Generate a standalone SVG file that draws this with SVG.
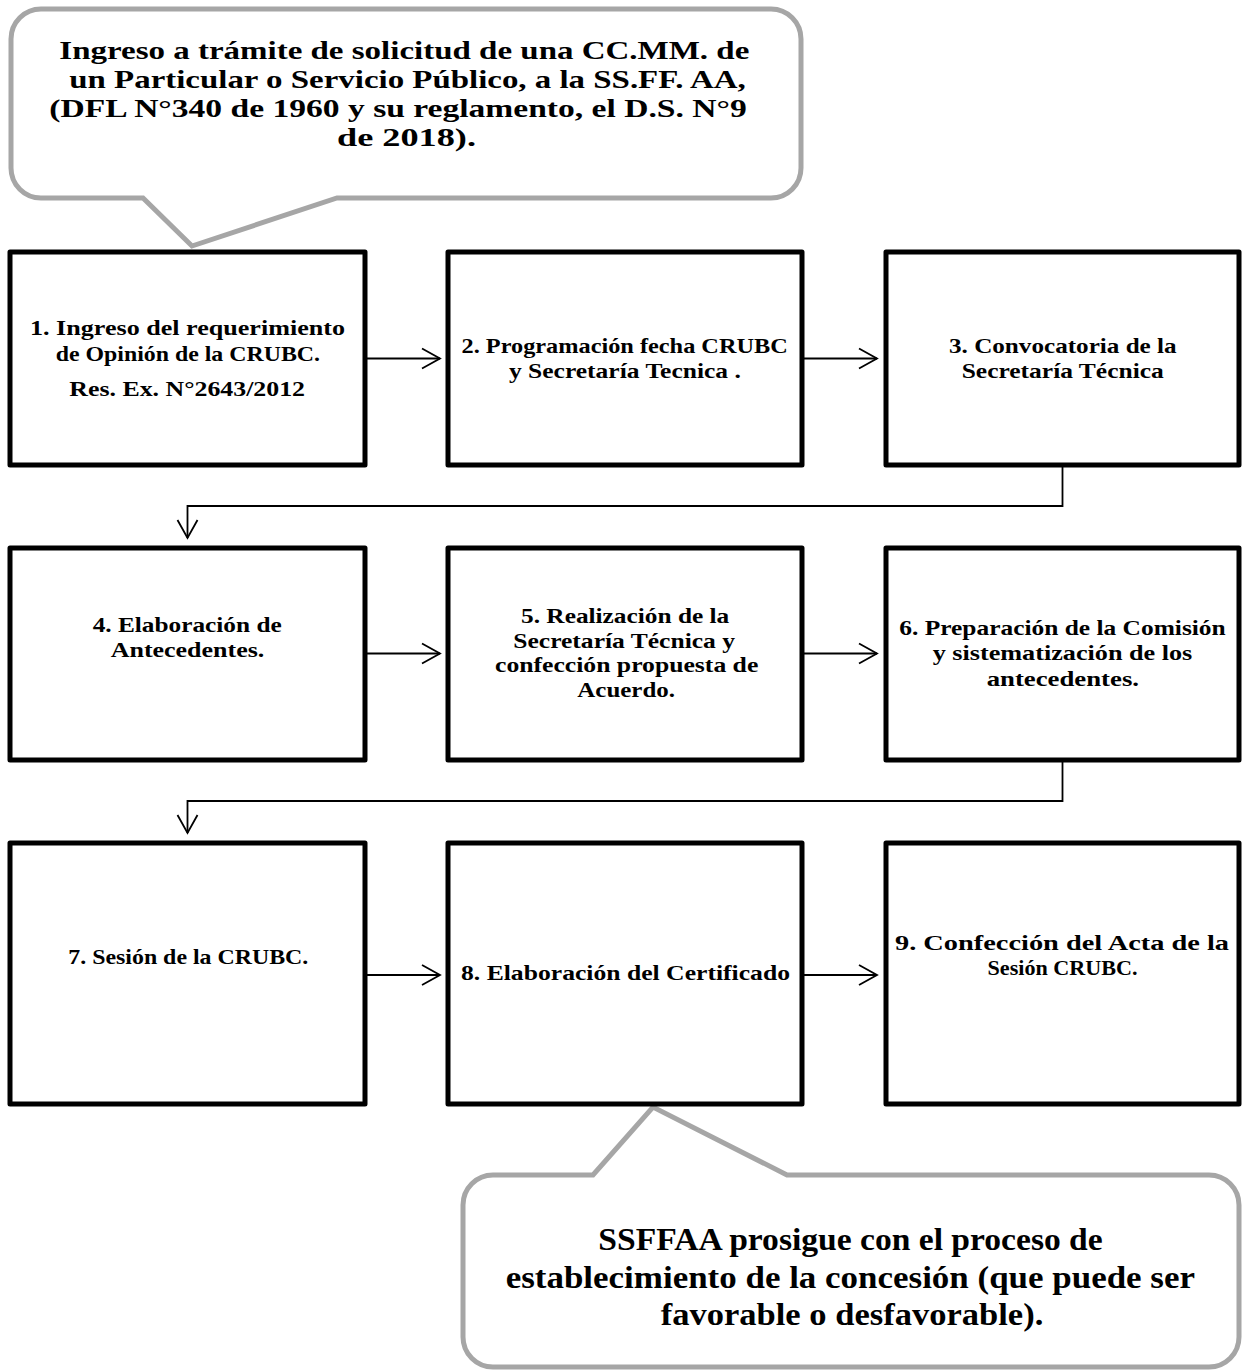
<svg xmlns="http://www.w3.org/2000/svg" width="1242" height="1372" viewBox="0 0 1242 1372">
<style>
.box{fill:#fff;stroke:#000;stroke-width:5;stroke-linejoin:round}
.call{fill:#fff;stroke:#a6a6a6;stroke-width:5;stroke-linejoin:miter}
.conn{fill:none;stroke:#000;stroke-width:1.8}
text{font-family:"Liberation Serif","DejaVu Serif",serif;font-weight:bold;fill:#000}
.t{font-size:22px}
.c1{font-size:26px}
.c2{font-size:31px}
</style>
<defs>
<marker id="arr" markerUnits="userSpaceOnUse" viewBox="-21 -12 23 24" markerWidth="23" markerHeight="24" refX="0" refY="0" orient="auto">
<path d="M -18 -10 L 0 0 L -18 10" fill="none" stroke="#000" stroke-width="1.8"/>
</marker>
</defs>
<rect width="1242" height="1372" fill="#fff"/>

<g id="callout-top">
<path class="call" d="M 41 9 H 771 A 30 30 0 0 1 801 39 V 168 A 30 30 0 0 1 771 198 H 337 L 192 246 L 143 198 H 41 A 30 30 0 0 1 11 168 V 39 A 30 30 0 0 1 41 9 Z"/>
<text class="c1" x="59.3" y="58.5" textLength="690" lengthAdjust="spacingAndGlyphs">Ingreso a trámite de solicitud de una CC.MM. de</text>
<text class="c1" x="69.3" y="87.5" textLength="676.4" lengthAdjust="spacingAndGlyphs">un Particular o Servicio Público, a la SS.FF. AA,</text>
<text class="c1" x="49.3" y="116.5" textLength="697.4" lengthAdjust="spacingAndGlyphs">(DFL N°340 de 1960 y su reglamento, el D.S. N°9</text>
<text class="c1" x="337" y="145.5" textLength="139" lengthAdjust="spacingAndGlyphs">de 2018).</text>
</g>

<g id="callout-bottom">
<path class="call" d="M 493 1175 H 593 L 653 1107 L 787 1175 H 1209 A 30 30 0 0 1 1239 1205 V 1337 A 30 30 0 0 1 1209 1367 H 493 A 30 30 0 0 1 463 1337 V 1205 A 30 30 0 0 1 493 1175 Z"/>
<text class="c2" x="598.3" y="1250" textLength="504.4" lengthAdjust="spacingAndGlyphs">SSFFAA prosigue con el proceso de</text>
<text class="c2" x="505.7" y="1288" textLength="689.3" lengthAdjust="spacingAndGlyphs">establecimiento de la concesión (que puede ser</text>
<text class="c2" x="660.7" y="1325" textLength="382.6" lengthAdjust="spacingAndGlyphs">favorable o desfavorable).</text>
</g>

<g id="connectors">
<line class="conn" x1="367" y1="358.5" x2="440" y2="358.5" marker-end="url(#arr)"/>
<line class="conn" x1="804" y1="358.5" x2="877" y2="358.5" marker-end="url(#arr)"/>
<path class="conn" d="M 1062.5 467 V 506 H 187.5 V 538" marker-end="url(#arr)"/>
<line class="conn" x1="367" y1="653.5" x2="440" y2="653.5" marker-end="url(#arr)"/>
<line class="conn" x1="804" y1="653.5" x2="877" y2="653.5" marker-end="url(#arr)"/>
<path class="conn" d="M 1062.5 762 V 801 H 187.5 V 833" marker-end="url(#arr)"/>
<line class="conn" x1="367" y1="975" x2="440" y2="975" marker-end="url(#arr)"/>
<line class="conn" x1="804" y1="975" x2="877" y2="975" marker-end="url(#arr)"/>
</g>

<g id="node1">
<rect class="box" x="10" y="252" width="355" height="213"/>
<text class="t" x="30" y="335" textLength="315" lengthAdjust="spacingAndGlyphs">1. Ingreso del requerimiento</text>
<text class="t" x="55.7" y="360.7" textLength="264.3" lengthAdjust="spacingAndGlyphs">de Opinión de la CRUBC.</text>
<text class="t" x="69.3" y="395.7" textLength="235.7" lengthAdjust="spacingAndGlyphs">Res. Ex. N°2643/2012</text>
</g>
<g id="node2">
<rect class="box" x="448" y="252" width="354" height="213"/>
<text class="t" x="461.5" y="353.3" textLength="326.3" lengthAdjust="spacingAndGlyphs">2. Programación fecha CRUBC</text>
<text class="t" x="509" y="378.3" textLength="231.8" lengthAdjust="spacingAndGlyphs">y Secretaría Tecnica .</text>
</g>
<g id="node3">
<rect class="box" x="886" y="252" width="353" height="213"/>
<text class="t" x="949" y="353.3" textLength="227.6" lengthAdjust="spacingAndGlyphs">3. Convocatoria de la</text>
<text class="t" x="961.7" y="378.3" textLength="202.1" lengthAdjust="spacingAndGlyphs">Secretaría Técnica</text>
</g>
<g id="node4">
<rect class="box" x="10" y="548" width="355" height="212"/>
<text class="t" x="92.7" y="631.7" textLength="189" lengthAdjust="spacingAndGlyphs">4. Elaboración de</text>
<text class="t" x="110.7" y="656.7" textLength="153.6" lengthAdjust="spacingAndGlyphs">Antecedentes.</text>
</g>
<g id="node5">
<rect class="box" x="448" y="548" width="354" height="212"/>
<text class="t" x="521" y="623" textLength="208.3" lengthAdjust="spacingAndGlyphs">5. Realización de la</text>
<text class="t" x="513.3" y="647.5" textLength="221.7" lengthAdjust="spacingAndGlyphs">Secretaría Técnica y</text>
<text class="t" x="495" y="672" textLength="263.3" lengthAdjust="spacingAndGlyphs">confección propuesta de</text>
<text class="t" x="577.3" y="696.5" textLength="97.7" lengthAdjust="spacingAndGlyphs">Acuerdo.</text>
</g>
<g id="node6">
<rect class="box" x="886" y="548" width="353" height="212"/>
<text class="t" x="899.3" y="635" textLength="326.4" lengthAdjust="spacingAndGlyphs">6. Preparación de la Comisión</text>
<text class="t" x="932.7" y="660" textLength="259.6" lengthAdjust="spacingAndGlyphs">y sistematización de los</text>
<text class="t" x="986.7" y="685.7" textLength="152.3" lengthAdjust="spacingAndGlyphs">antecedentes.</text>
</g>
<g id="node7">
<rect class="box" x="10" y="843" width="355" height="261"/>
<text class="t" x="68.3" y="964" textLength="240" lengthAdjust="spacingAndGlyphs">7. Sesión de la CRUBC.</text>
</g>
<g id="node8">
<rect class="box" x="448" y="843" width="354" height="261"/>
<text class="t" x="461" y="980" textLength="329" lengthAdjust="spacingAndGlyphs">8. Elaboración del Certificado</text>
</g>
<g id="node9">
<rect class="box" x="886" y="843" width="353" height="261"/>
<text class="t" x="895" y="950" textLength="334" lengthAdjust="spacingAndGlyphs">9. Confección del Acta de la</text>
<text class="t" x="987.5" y="975" textLength="150" lengthAdjust="spacingAndGlyphs">Sesión CRUBC.</text>
</g>
</svg>
